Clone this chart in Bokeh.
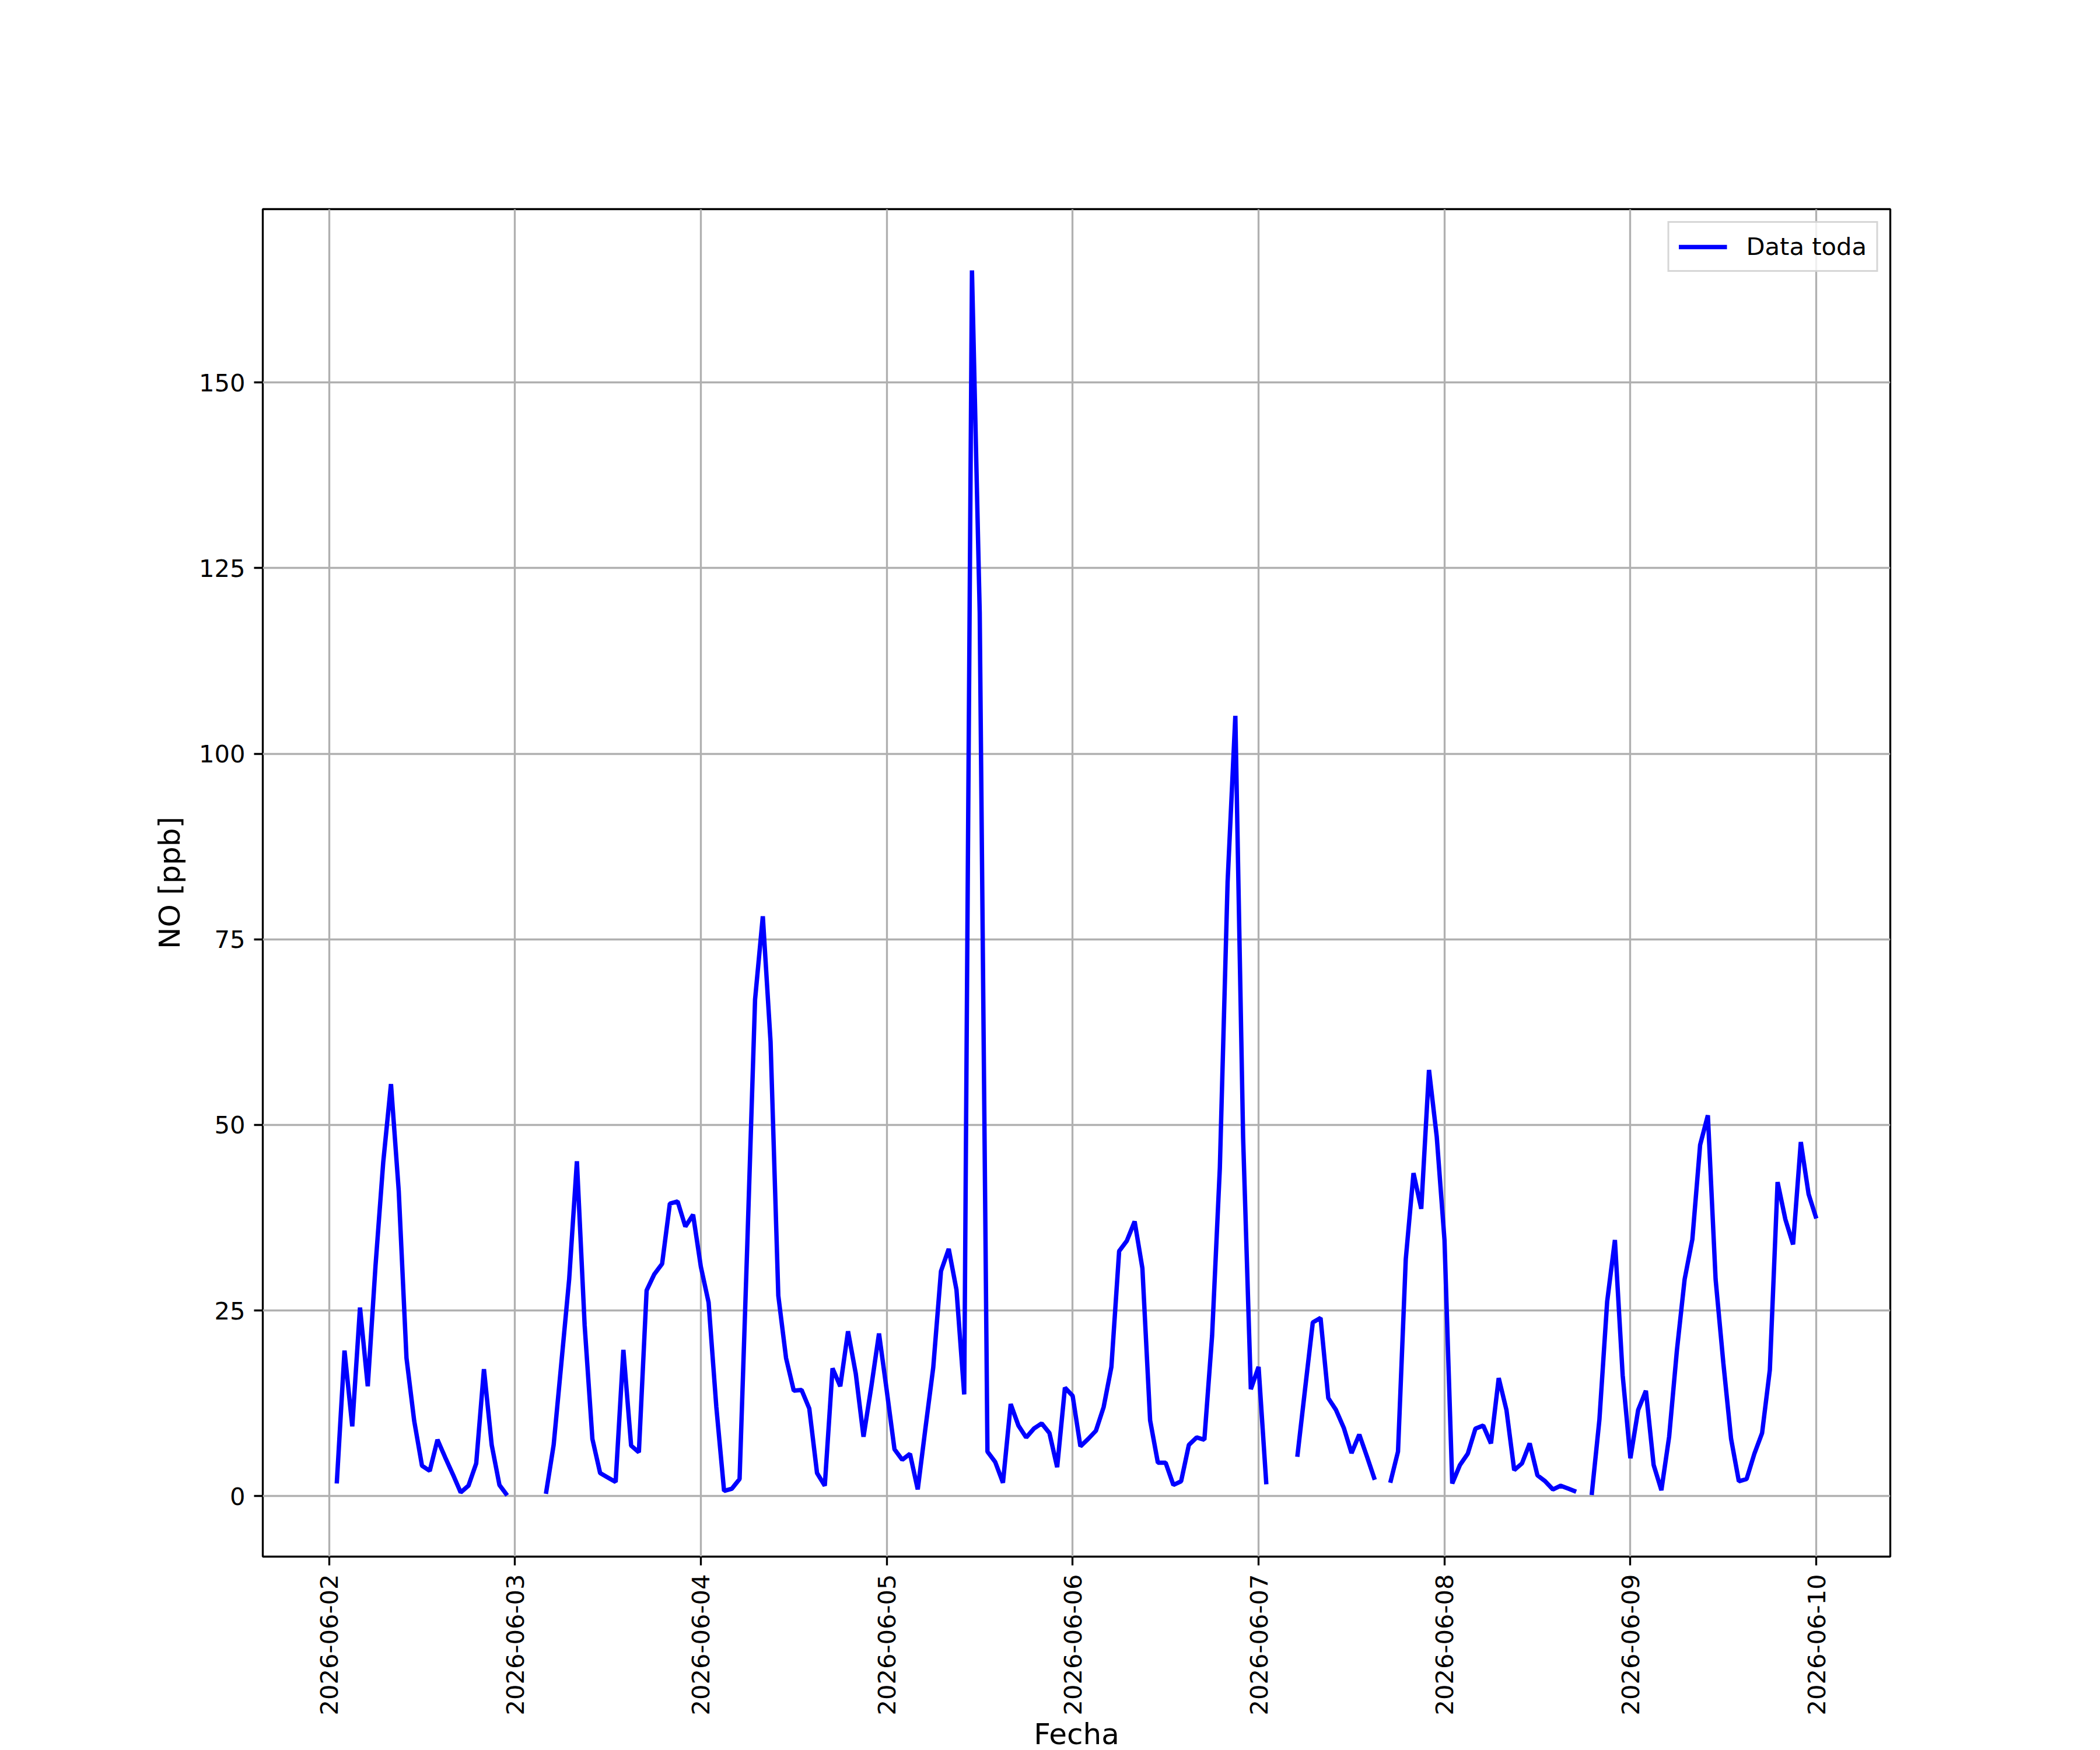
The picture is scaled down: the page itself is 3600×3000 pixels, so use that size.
import numpy as np
import pandas as pd
from bokeh.plotting import figure
from bokeh.models import (Range1d, FixedTicker, DatetimeTickFormatter,
                          Legend, LegendItem, ColumnDataSource)
from bokeh.embed import file_html
from bokeh.resources import INLINE

nan = float("nan")

# Hourly NO [ppb], first reading 2026-06-02 01:00, last 2026-06-10 00:00
first_time = "2026-06-02 01:00"
no_0602 = [1.7, 19.6, 9.4, 25.4, 14.8, 31.0, 45.0, 55.5, 41.1, 18.6, 10.1, 4.1,
           3.4, 7.6, 5.2, 2.9, 0.5, 1.4, 4.4, 17.1, 6.9, 1.5, 0.1]            # 01..23
no_0603 = [nan, nan, nan, nan, 0.3, 6.9, 18.0, 29.2, 45.1, 23.0, 7.7, 3.1,
           2.5, 1.9, 19.7, 6.8, 5.9, 27.7, 29.9, 31.3, 39.4, 39.7, 36.3, 37.9]
no_0604 = [30.9, 26.1, 12.0, 0.7, 1.0, 2.3, 34.0, 66.9, 78.1, 61.2, 27.0, 18.6,
           14.2, 14.3, 11.8, 3.1, 1.4, 17.2, 14.8, 22.2, 16.5, 8.0, 14.7, 21.9]
no_0605 = [14.2, 6.3, 4.9, 5.7, 0.9, 9.2, 17.3, 30.3, 33.3, 27.8, 13.7, 165.1,
           119.0, 6.0, 4.6, 1.8, 12.4, 9.5, 7.9, 9.1, 9.8, 8.5, 3.9, 14.6]
no_0606 = [13.5, 6.7, 7.7, 8.8, 12.0, 17.4, 33.0, 34.4, 37.0, 30.7, 10.2, 4.5,
           4.5, 1.5, 2.0, 6.9, 7.9, 7.6, 21.6, 44.2, 82.7, 105.1, 48.4, 14.4]
no_0607 = [17.4, 1.6, nan, nan, nan, 5.3, 14.4, 23.4, 24.0, 13.2, 11.6, 9.2,
           5.8, 8.3, 5.3, 2.2, nan, 1.8, 6.0, 31.9, 43.5, 38.7, 57.4, 48.4]
no_0608 = [34.5, 1.7, 4.2, 5.7, 9.1, 9.5, 7.1, 15.9, 11.6, 3.5, 4.4, 7.1,
           2.8, 2.0, 0.9, 1.4, 1.0, 0.6, nan, 0.15, 10.3, 26.2, 34.5, 16.3]
no_0609 = [5.1, 11.6, 14.2, 4.2, 0.8, 8.0, 19.6, 29.2, 34.6, 47.3, 51.3, 29.2,
           17.9, 7.7, 2.0, 2.3, 5.7, 8.5, 17.0, 42.3, 37.3, 33.9, 47.7, 40.7]
no_0610 = [37.4]

tick_dates = ["2026-06-02", "2026-06-03", "2026-06-04", "2026-06-05", "2026-06-06",
              "2026-06-07", "2026-06-08", "2026-06-09", "2026-06-10"]
y_ticks = [0, 25, 50, 75, 100, 125, 150]

series_label = "Data toda"
x_label = "Fecha"
y_label = "NO [ppb]"

values = (no_0602 + no_0603 + no_0604 + no_0605 + no_0606 + no_0607 +
          no_0608 + no_0609 + no_0610)
times = pd.date_range(first_time, periods=len(values), freq="h")

src = ColumnDataSource(data=dict(t=times, v=values))

def ms(ts):
    return pd.Timestamp(ts).value / 1e6

t0, t1 = ms(times[0]), ms(times[-1])
xpad = 0.05 * (t1 - t0)
vals = np.array(values, dtype=float)
vmin, vmax = np.nanmin(vals), np.nanmax(vals)
ypad = 0.05 * (vmax - vmin)

FONT = "DejaVu Sans"
LW = 3.33

p = figure(x_axis_type="datetime",
           frame_width=2790, frame_height=2310,
           min_border_left=450, min_border_right=352,
           min_border_top=358, min_border_bottom=310,
           x_range=Range1d(t0 - xpad, t1 + xpad),
           y_range=Range1d(vmin - ypad, vmax + ypad),
           output_backend="svg", toolbar_location=None,
           background_fill_color="white", border_fill_color="white")

r = p.line(x="t", y="v", source=src, line_color="#0000ff", line_width=7.5)

# axes
p.xaxis.ticker = FixedTicker(ticks=[ms(d) for d in tick_dates])
fmt = "%Y-%m-%d"
p.xaxis.formatter = DatetimeTickFormatter(microseconds=fmt, milliseconds=fmt, seconds=fmt,
                                          minsec=fmt, minutes=fmt, hourmin=fmt, hours=fmt,
                                          days=fmt, months=fmt, years=fmt)
p.xaxis.major_label_orientation = np.pi / 2
p.yaxis.ticker = FixedTicker(ticks=y_ticks)

for ax in (p.xaxis, p.yaxis):
    ax.axis_line_color = None
    ax.major_tick_out = 15
    ax.major_tick_in = 0
    ax.major_tick_line_width = LW
    ax.major_tick_line_color = "black"
    ax.minor_tick_line_color = None
    ax.major_label_text_font = FONT
    ax.major_label_text_font_size = "41.67px"
    ax.major_label_text_color = "black"
    ax.axis_label_text_font = FONT
    ax.axis_label_text_font_size = "50px"
    ax.axis_label_text_font_style = "normal"
    ax.axis_label_text_color = "black"

p.xaxis.major_label_standoff = 15
p.xaxis.axis_label = x_label
p.xaxis.axis_label_standoff = 0
p.yaxis.major_label_standoff = 15
p.yaxis.axis_label = y_label
p.yaxis.axis_label_standoff = 18

for g in (p.xgrid, p.ygrid):
    g.grid_line_color = "#b0b0b0"
    g.grid_line_width = LW

p.outline_line_color = "black"
p.outline_line_width = LW
p.outline_line_alpha = 1.0

# legend
legend = Legend(items=[LegendItem(label=series_label, renderers=[r])],
                location="top_right", margin=21, padding=16, spacing=0,
                glyph_width=83, glyph_height=40, label_height=40, label_standoff=33,
                label_text_font=FONT, label_text_font_size="41.67px",
                label_text_color="black",
                border_line_color="#cccccc", border_line_alpha=0.8, border_line_width=LW,
                background_fill_color="white", background_fill_alpha=0.8)
p.add_layout(legend)

open("out.html", "w").write(file_html(p, INLINE))
